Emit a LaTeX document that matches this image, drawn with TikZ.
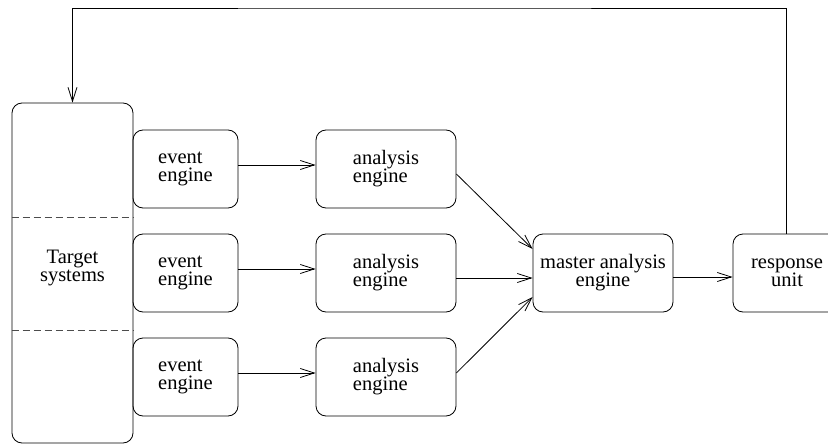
\documentclass[tikz,border=0pt]{standalone}
\usepackage{fontspec}
\setmainfont{Liberation Serif}
\usetikzlibrary{arrows.meta,positioning}

\begin{document}
\begin{tikzpicture}[x=1pt,y=-1pt,line width=0.8pt,>={Straight Barb[length=14pt,width=9pt]}]
	\useasboundingbox (0,0) rectangle (828,444);
	% Define the box style
	\tikzstyle{unitbox} = [draw, rectangle, rounded corners=10pt, minimum height=78pt, inner sep=2pt, font=\fontsize{20.5}{18}\selectfont];
	\tikzstyle{splitline} = [draw=black!70, dash pattern=on 7pt off 4pt];
	
	% Target systems column
	\node[unitbox, minimum width=121pt, minimum height=340pt] (target) at (72.5,273) {};
	\node[font=\fontsize{20.5}{18}\selectfont, align=center] (tlabel) at (72.5,268) {Target\\systems};
	\coordinate (d1) at (0,217);
	\coordinate (d2) at (0,330);
	\foreach \d in {d1,d2}
	\draw[splitline] (target.west |- \d) -- (target.east |- \d);
	
	% Draw 3 event/analysis pairs
	\foreach \i/\y in {1/169, 2/273, 3/377}
	{
		\node[unitbox, align=left, minimum width=105pt] (ev\i) at (185.5,\y) {event\\engine};
		\node[unitbox, align=left, minimum width=140pt] (an\i) at (386,\y) {analysis\\engine};
		\draw[->] ([yshift=4pt]ev\i.east) -- ([yshift=4pt]an\i.west);
	}
	
	\node[unitbox, align=center, minimum width=140pt] (master) at (603,273) {master analysis\\engine};
	\node[unitbox, align=center, minimum width=108pt] (resp) at (787,273) {response\\unit};
	
	\draw[->] ([yshift=-5pt]an1.east) -- ([yshift=24pt]master.west);
	\draw[->] ([yshift=-5pt]an2.east) -- ([yshift=-5pt]master.west);
	\draw[->] ([yshift=4pt]an3.east) -- ([yshift=-24pt]master.west);
	\draw[->] ([yshift=-4pt]master.east) -- ([yshift=-4pt]resp.west);
	
	% feedback to the targets
	\coordinate (fb) at (400,8);
	\draw[->] ([xshift=-1pt]resp.north) |- (fb) -| (target.north);
\end{tikzpicture}
\end{document}
